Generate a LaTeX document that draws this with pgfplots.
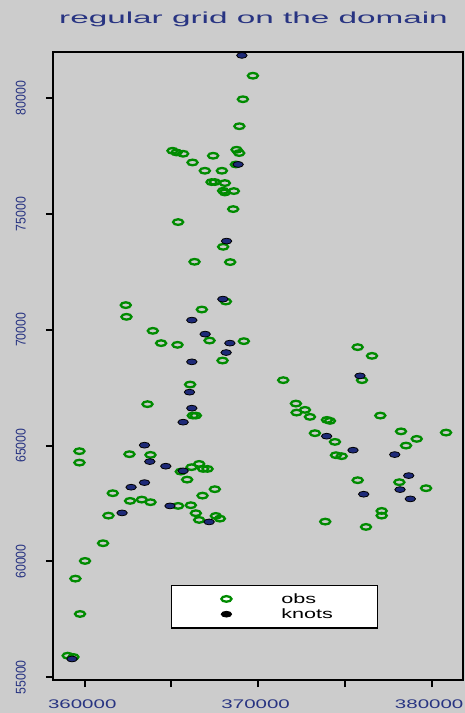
\documentclass[border=0pt]{standalone}
\usepackage{pgfplots}
\pgfplotsset{compat=1.18}
\usepackage{pgfplotstable}
\usepackage{fontspec}
\setmainfont{Liberation Sans}
\usepackage{graphicx}
\definecolor{bg}{RGB}{204,204,204}
\definecolor{obsgreen}{RGB}{0,139,0}
\definecolor{knotfill}{RGB}{30,42,120}
\definecolor{labblue}{RGB}{40,52,130}

\pgfplotstableread{
x y
369694 80964
369117 79949
368915 78784
368753 77769
368903 77626
365060 77726
365291 77652
365672 77596
366214 77220
367403 77510
368713 77134
366924 76862
367905 76862
367311 76374
367501 76374
368078 76331
367980 75999
368078 75925
368597 75985
368557 75208
365383 74647
367980 73580
366330 72933
368384 72920
368136 71218
362366 71063
362406 70558
366751 70873
363924 69953
367195 69534
364403 69422
365349 69349
369174 69508
367945 68671
366076 67635
363618 66788
366232 66296
366405 66296
359694 64759
359694 64266
362579 64629
363791 64599
365539 63878
366157 64068
366595 64210
366826 63994
367080 63994
365903 63532
367501 63118
366791 62841
361616 62945
362614 62613
363289 62669
363791 62557
365383 62397
366116 62427
366405 62082
366595 61792
367559 61965
367790 61848
361367 61978
361056 60786
360017 60022
359463 59258
359729 57733
359019 55933
359348 55877
375735 69249
376560 68873
375983 67824
371442 67824
372175 66814
372694 66542
372215 66425
372983 66240
373963 66110
374137 66067
377039 66296
378233 65614
380830 65562
373271 65536
374425 65160
379139 65290
378522 65001
374483 64586
374812 64543
375735 63506
378135 63420
379676 63161
377119 62181
377119 61978
373865 61719
376214 61490
}\obsdata

\pgfplotstableread{
x y
369059 81841
368845 77134
368176 73826
367963 71322
366174 70415
366941 69811
368367 69422
368153 69016
366174 68615
366041 67306
366174 66615
365672 66011
363445 65018
363751 64310
364674 64111
365672 63908
363445 63403
362672 63204
364916 62397
362152 62095
367172 61706
359267 55790
375868 68010
373946 65406
375464 64802
377870 64612
378677 63705
378176 63101
376081 62902
378770 62699
}\knotdata

\begin{document}
\begin{tikzpicture}
\fill[bg] (-53bp,-33bp) rectangle (412bp,680bp);
\begin{axis}[
  at={(0,0)}, anchor=south west,
  scale only axis, width=410bp, height=628bp,
  xmin=358171, xmax=381806, ymin=54883, ymax=81988,
  clip=false,
  axis line style={line width=2bp, black},
  tick align=outside, major tick length=7bp,
  major tick style={line width=2bp, black},
  tick pos=left,
  scaled ticks=false,
  xtick={360000,365000,370000,375000,380000},
  xticklabels={\scalebox{1.64}[1]{360000},{},\scalebox{1.64}[1]{370000},{},\scalebox{1.64}[1]{380000}},
  ytick={55000,60000,65000,70000,75000,80000},
  yticklabels={\scalebox{1}[1.14]{55000},\scalebox{1}[1.14]{60000},\scalebox{1}[1.14]{65000},\scalebox{1}[1.14]{70000},\scalebox{1}[1.14]{75000},\scalebox{1}[1.14]{80000}},
  xticklabel style={font=\fontsize{12.5bp}{12.5bp}\selectfont, text=labblue, anchor=north, inner sep=0pt, xshift=-2.5bp},
  xticklabel shift=13bp,
  yticklabel style={font=\fontsize{12.3bp}{12.3bp}\selectfont, text=labblue, rotate=90, anchor=south, inner sep=0pt},
  yticklabel shift=20bp,
  legend style={at={(0.287,0.152)}, anchor=north west, draw=black, line width=1.5bp, fill=white,
    inner xsep=0bp, inner ysep=6bp, row sep=0bp,
    font=\fontsize{13.5bp}{15bp}\selectfont},
  legend cell align=left,
  legend image code/.code={\path[draw=none, fill=none] (0bp,-5bp) rectangle (108bp,5bp); \draw[#1] plot coordinates {(55bp,0bp)};},
]
\addlegendimage{only marks, mark=o, mark size=2.8bp, line width=2.3bp, mark options={xscale=1.8, draw=obsgreen, line width=2.3bp}}
\addlegendentry{\makebox[94bp][l]{\scalebox{1.6}[1]{obs}}}
\addlegendimage{only marks, mark=*, mark size=2.9bp, line width=0.8bp, mark options={xscale=1.8, fill=black, draw=black, line width=0.8bp}}
\addlegendentry{\makebox[94bp][l]{\scalebox{1.6}[1]{knots}}}
\addplot[forget plot, only marks, mark=o, mark size=2.8bp, line width=2.3bp, mark options={xscale=1.8, draw=obsgreen, line width=2.3bp}] table {\obsdata};
\addplot[forget plot, only marks, mark=*, mark size=2.9bp, line width=0.8bp, mark options={xscale=1.8, fill=knotfill, draw=black, line width=0.8bp}] table {\knotdata};
\end{axis}
\node[anchor=base, text=labblue, inner sep=0pt] at (200.5bp,656.7bp) {\scalebox{2.08}[1]{\fontsize{16bp}{16bp}\selectfont regular grid on the domain}};
\pgfresetboundingbox
\path[use as bounding box] (-53bp,-33bp) rectangle (412bp,680bp);
\end{tikzpicture}
\end{document}
